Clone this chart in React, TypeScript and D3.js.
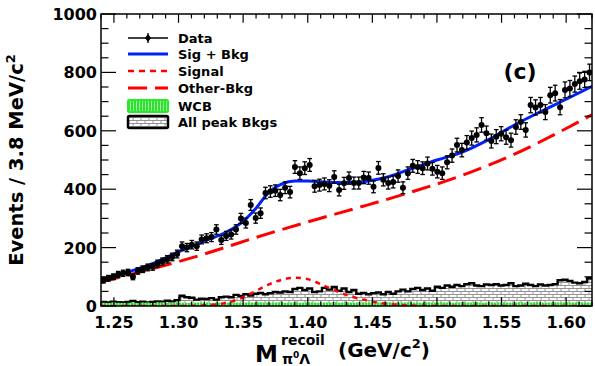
import React, { useEffect, useRef } from 'react';
import * as d3 from 'd3';

// recoil mass spectrum, 100 bins of 3.8 MeV from 1.24 to 1.62 GeV
const binStart = 1.24;
const binWidth = 0.0038;

const dataCounts = [
  88, 95, 100, 108, 112, 115, 100, 120, 126, 132,
  134, 145, 152, 160, 168, 178, 205, 200, 210, 205,
  228, 232, 236, 262, 226, 240, 245, 262, 300, 284,
  346, 301, 318, 387, 392, 395, 380, 405, 390, 476,
  455, 472, 483, 410, 414, 418, 412, 442, 397, 420,
  438, 421, 421, 440, 438, 408, 473, 432, 421, 425,
  445, 405, 455, 480, 476, 472, 488, 470, 460, 455,
  492, 515, 551, 534, 560, 575, 586, 620, 592, 565,
  580, 590, 578, 568, 613, 630, 603, 688, 680, 688,
  664, 722, 729, 681, 740, 745, 760, 770, 776, 800,
];

const peakBkg = [
  14, 12, 15, 13, 12, 14, 17, 13, 15, 12,
  14, 16, 15, 18, 16, 20, 35, 30, 28, 22,
  25, 24, 27, 22, 30, 32, 30, 38, 34, 40,
  36, 42, 45, 40, 44, 48, 46, 50, 48, 58,
  62, 55, 60, 48, 50, 62, 56, 65, 52, 60,
  48, 55, 42, 45, 40, 44, 46, 40, 48, 42,
  50, 56, 50, 58, 62, 55, 60, 52, 66, 62,
  70, 66, 72, 68, 75, 78, 70, 68, 74, 72,
  75, 70, 72, 78, 68, 70, 76, 72, 68, 74,
  70, 72, 75, 88, 90, 86, 80, 78, 82, 95,
];

const wcb = [
  11, 10, 12, 11, 10, 11, 12, 10, 11, 12,
  10, 11, 12, 11, 10, 12, 11, 10, 11, 12,
  11, 12, 10, 11, 12, 11, 10, 12, 11, 12,
  12, 11, 13, 12, 11, 12, 13, 11, 12, 12,
  11, 12, 13, 12, 11, 12, 12, 13, 11, 12,
  12, 11, 12, 13, 12, 11, 12, 12, 13, 12,
  11, 12, 13, 12, 12, 11, 13, 12, 12, 13,
  12, 11, 12, 13, 12, 12, 13, 11, 12, 13,
  12, 13, 12, 11, 12, 13, 12, 12, 13, 12,
  11, 12, 13, 12, 13, 12, 12, 13, 12, 12,
];

// fit curves, read at nodes
const sigBkgMass = [1.24, 1.26, 1.28, 1.30, 1.32, 1.34, 1.35, 1.36, 1.37, 1.38, 1.39, 1.40, 1.42, 1.44, 1.46, 1.48, 1.50, 1.52, 1.54, 1.56, 1.58, 1.60, 1.62];
const sigBkgVal = [90, 115, 145, 185, 222, 260, 290, 335, 390, 418, 428, 428, 423, 425, 440, 470, 500, 528, 570, 620, 665, 708, 752];

const otherMass = [1.24, 1.28, 1.32, 1.36, 1.40, 1.44, 1.48, 1.52, 1.56, 1.60, 1.62];
const otherVal = [82, 128, 178, 235, 288, 338, 390, 448, 520, 608, 655];

const signalMass = [1.24, 1.30, 1.32, 1.34, 1.35, 1.36, 1.37, 1.38, 1.39, 1.40, 1.41, 1.42, 1.43, 1.44, 1.45, 1.46, 1.48, 1.50, 1.62];
const signalVal = [0, 0, 2, 14, 30, 52, 74, 90, 97, 92, 75, 55, 38, 25, 15, 8, 2, 0, 0];

const xTickLabels = [1.25, 1.30, 1.35, 1.40, 1.45, 1.50, 1.55, 1.60];
const yTickLabels = [0, 200, 400, 600, 800, 1000];

const legendItems = ['Data', 'Sig + Bkg', 'Signal', 'Other-Bkg', 'WCB', 'All peak Bkgs'];

const FONT = '"DejaVu Sans", sans-serif';

const App = () => {
  const svgRef = useRef(null);

  useEffect(() => {
    const svg = d3.select(svgRef.current);
    svg.selectAll('*').remove();

    const left = 101, right = 592, top = 14, bottom = 306;
    const x = d3.scaleLinear().domain([1.24, 1.62]).range([left, right]);
    const y = d3.scaleLinear().domain([0, 1000]).range([bottom, top]);

    const defs = svg.append('defs');
    defs.append('clipPath').attr('id', 'plotclip')
      .append('rect').attr('x', left).attr('y', top).attr('width', right - left).attr('height', bottom - top);

    // brick pattern for peak backgrounds
    const brick = defs.append('pattern').attr('id', 'brick')
      .attr('patternUnits', 'userSpaceOnUse').attr('width', 8).attr('height', 6);
    brick.append('rect').attr('width', 8).attr('height', 6).attr('fill', 'white');
    brick.append('path').attr('d', 'M0,0.5H8M0,3.5H8M1,0.5V3.5M5,3.5V6')
      .attr('stroke', '#888').attr('stroke-width', 0.9).attr('fill', 'none');

    // vertical hatch for WCB
    const hatch = defs.append('pattern').attr('id', 'hatch')
      .attr('patternUnits', 'userSpaceOnUse').attr('width', 3).attr('height', 3);
    hatch.append('rect').attr('width', 3).attr('height', 3).attr('fill', '#33dd33');
    hatch.append('path').attr('d', 'M1.5,0V3').attr('stroke', '#99f599').attr('stroke-width', 1);

    const plot = svg.append('g').attr('clip-path', 'url(#plotclip)');

    const edges = d3.range(101).map(i => binStart + i * binWidth);
    const stepData = (vals) => edges.map((e, i) => [e, vals[Math.min(i, vals.length - 1)]]);

    const area = d3.area().curve(d3.curveStepAfter)
      .x(d => x(d[0])).y0(y(0)).y1(d => y(d[1]));
    const stepLine = d3.line().curve(d3.curveStepAfter)
      .x(d => x(d[0])).y(d => y(d[1]));

    // all peak bkgs
    plot.append('path').datum(stepData(peakBkg))
      .attr('d', area).attr('fill', 'url(#brick)');
    plot.append('path').datum(stepData(peakBkg))
      .attr('d', stepLine).attr('fill', 'none').attr('stroke', 'black').attr('stroke-width', 2.4);

    // WCB
    plot.append('path').datum(stepData(wcb))
      .attr('d', area).attr('fill', 'url(#hatch)');

    const curve = d3.line().curve(d3.curveMonotoneX).x(d => x(d[0])).y(d => y(d[1]));

    plot.append('path').datum(signalMass.map((m, i) => [m, signalVal[i]]))
      .attr('d', curve).attr('fill', 'none').attr('stroke', '#ff0000')
      .attr('stroke-width', 2.5).attr('stroke-dasharray', '5,5');

    plot.append('path').datum(otherMass.map((m, i) => [m, otherVal[i]]))
      .attr('d', curve).attr('fill', 'none').attr('stroke', '#ff0000')
      .attr('stroke-width', 3).attr('stroke-dasharray', '19,8');

    plot.append('path').datum(sigBkgMass.map((m, i) => [m, sigBkgVal[i]]))
      .attr('d', curve).attr('fill', 'none').attr('stroke', '#0022ff')
      .attr('stroke-width', 3);

    // data points with errors
    const pts = plot.append('g').attr('stroke', 'black').attr('stroke-width', 1.3);
    dataCounts.forEach((v, i) => {
      const lo = binStart + i * binWidth;
      const c = lo + binWidth / 2;
      const err = Math.sqrt(v);
      const cx = x(c);
      pts.append('line').attr('x1', x(lo)).attr('x2', x(lo + binWidth))
        .attr('y1', y(v)).attr('y2', y(v));
      pts.append('line').attr('x1', cx).attr('x2', cx)
        .attr('y1', y(v - err)).attr('y2', y(v + err));
      [v - err, v + err].forEach(e => {
        pts.append('line').attr('x1', cx - 2.3).attr('x2', cx + 2.3)
          .attr('y1', y(e)).attr('y2', y(e));
      });
      pts.append('circle').attr('cx', cx).attr('cy', y(v)).attr('r', 3)
        .attr('fill', 'black').attr('stroke', 'none');
    });

    // frame
    svg.append('rect').attr('x', left).attr('y', top).attr('width', right - left).attr('height', bottom - top)
      .attr('fill', 'none').attr('stroke', 'black').attr('stroke-width', 1.5);

    // ticks
    const tk = svg.append('g').attr('stroke', 'black').attr('stroke-width', 1.2);
    d3.range(0, 1001, 50).forEach(v => {
      const len = v % 200 === 0 ? 15 : 7.5;
      tk.append('line').attr('x1', left).attr('x2', left + len).attr('y1', y(v)).attr('y2', y(v));
      tk.append('line').attr('x1', right).attr('x2', right - len).attr('y1', y(v)).attr('y2', y(v));
    });
    d3.range(124, 163).forEach(k => {
      const m = k / 100;
      const len = k % 5 === 0 ? 8.8 : 4.4;
      tk.append('line').attr('x1', x(m)).attr('x2', x(m)).attr('y1', bottom).attr('y2', bottom - len);
      tk.append('line').attr('x1', x(m)).attr('x2', x(m)).attr('y1', top).attr('y2', top + len);
    });

    const txt = svg.append('g').attr('font-family', FONT).attr('font-weight', 'bold').attr('fill', 'black');

    yTickLabels.forEach(v => {
      txt.append('text').attr('x', 97).attr('y', y(v) + 6).attr('text-anchor', 'end')
        .attr('font-size', 16).text(v);
    });
    xTickLabels.forEach(v => {
      txt.append('text').attr('x', x(v)).attr('y', 328).attr('text-anchor', 'middle')
        .attr('font-size', 16).text(v.toFixed(2));
    });

    // y title
    const yt = txt.append('text').attr('transform', 'translate(23,160) rotate(-90)')
      .attr('text-anchor', 'middle').attr('font-size', 19.5);
    yt.append('tspan').text('Events / 3.8 MeV/c');
    yt.append('tspan').attr('dy', -8).attr('font-size', 13).text('2');

    // x title
    txt.append('text').attr('x', 255).attr('y', 362).attr('font-size', 23).text('M');
    txt.append('text').attr('x', 281).attr('y', 345).attr('font-size', 14).text('recoil');
    const sub = txt.append('text').attr('x', 282).attr('y', 364).attr('font-size', 14);
    sub.append('tspan').text('π');
    sub.append('tspan').attr('dy', -6).attr('font-size', 9).text('0');
    sub.append('tspan').attr('dy', 6).text('Λ');
    const unit = txt.append('text').attr('x', 338).attr('y', 357).attr('font-size', 20);
    unit.append('tspan').text('(GeV/c');
    unit.append('tspan').attr('dy', -9).attr('font-size', 13).text('2');
    unit.append('tspan').attr('dy', 9).text(')');

    txt.append('text').attr('x', 520).attr('y', 79).attr('text-anchor', 'middle')
      .attr('font-size', 22).text('(c)');

    // legend
    const rowY = [38, 54, 71, 88, 106, 122];
    const lg = svg.append('g');
    const x0 = 128, x1 = 168;
    // Data
    lg.append('line').attr('x1', x0).attr('x2', x1).attr('y1', rowY[0]).attr('y2', rowY[0])
      .attr('stroke', 'black').attr('stroke-width', 1.3);
    lg.append('line').attr('x1', 148).attr('x2', 148).attr('y1', rowY[0] - 5).attr('y2', rowY[0] + 5)
      .attr('stroke', 'black').attr('stroke-width', 1.3);
    lg.append('path').attr('d', `M148,${rowY[0] - 4}L151,${rowY[0]}L148,${rowY[0] + 4}L145,${rowY[0]}Z`)
      .attr('fill', 'black');
    // Sig + Bkg
    lg.append('line').attr('x1', x0).attr('x2', x1).attr('y1', rowY[1]).attr('y2', rowY[1])
      .attr('stroke', '#0022ff').attr('stroke-width', 3);
    // Signal
    lg.append('line').attr('x1', x0).attr('x2', x1).attr('y1', rowY[2]).attr('y2', rowY[2])
      .attr('stroke', '#ff0000').attr('stroke-width', 2.5).attr('stroke-dasharray', '6,5');
    // Other-Bkg
    lg.append('line').attr('x1', x0).attr('x2', x1).attr('y1', rowY[3]).attr('y2', rowY[3])
      .attr('stroke', '#ff0000').attr('stroke-width', 3).attr('stroke-dasharray', '19,8');
    // WCB
    lg.append('rect').attr('x', x0).attr('y', rowY[4] - 6).attr('width', x1 - x0).attr('height', 12)
      .attr('fill', 'url(#hatch)').attr('stroke', '#22ee22').attr('stroke-width', 2).attr('rx', 1.5);
    // All peak bkgs
    lg.append('rect').attr('x', x0).attr('y', rowY[5] - 6).attr('width', x1 - x0).attr('height', 12)
      .attr('fill', 'url(#brick)').attr('stroke', 'black').attr('stroke-width', 2.5).attr('rx', 1.5);

    legendItems.forEach((t, i) => {
      txt.append('text').attr('x', 178).attr('y', rowY[i] + 5).attr('font-size', 13).text(t);
    });
  }, []);

  return (
    <svg ref={svgRef} width={595} height={366}
      style={{ position: 'absolute', left: 0, top: 0, background: 'white' }} />
  );
};

export default App;
